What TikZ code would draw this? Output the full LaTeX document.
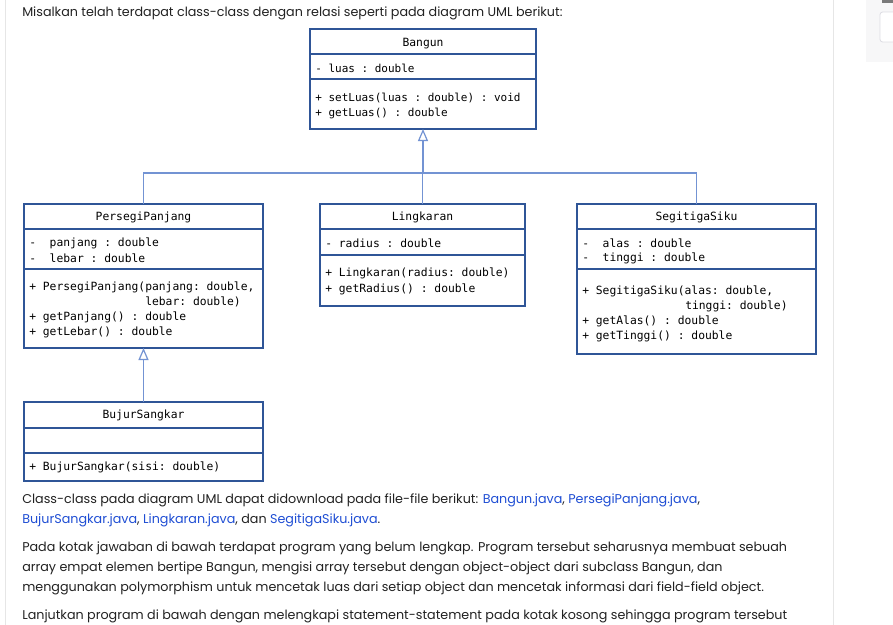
\documentclass[tikz,border=0pt]{standalone}
\usepackage{fontspec}
\setmainfont{Poppins}
\newfontfamily\umlfont{DejaVu Sans Mono}
\usetikzlibrary{arrows.meta}
\definecolor{boxblue}{HTML}{2F5597}
\definecolor{connblue}{HTML}{7393D3}
\definecolor{bodytext}{HTML}{222222}
\definecolor{linkblue}{HTML}{1F4ED4}
\definecolor{cardline}{HTML}{E6E6E6}
\definecolor{panelgray}{HTML}{F7F7F8}
\definecolor{panelline}{HTML}{DDDDE3}
\definecolor{panelbar}{HTML}{7A7A7A}
\newcommand{\lnk}[1]{\textcolor{linkblue}{#1}}
\begin{document}
\begin{tikzpicture}[x=0.75pt,y=-0.75pt,
  classbox/.style={draw=boxblue, line width=1.1pt, fill=white, anchor=north west, inner sep=0pt, outer sep=0pt},
  divider/.style={draw=boxblue, line width=1.1pt},
  conn/.style={draw=connblue, line width=0.9pt},
  inherit/.style={conn, {Triangle[open, width=7.5pt, length=9pt, line width=0.9pt]}-},
  umltitle/.style={font=\umlfont\fontsize{8.5pt}{10pt}\selectfont, text=black, inner sep=0pt, yshift=-1pt},
  member/.style={font=\umlfont\fontsize{8.5pt}{10pt}\selectfont, text=black, inner sep=0pt, anchor=west, yshift=-0.8pt},
  narrow/.style={font=\umlfont\fontsize{8.25pt}{10pt}\selectfont},
  para/.style={font=\fontsize{9.55pt}{12pt}\selectfont, text=bodytext, inner sep=0pt, anchor=west, yshift=-0.6pt},
]
\useasboundingbox (0,0) rectangle (893,625);
\fill[white] (0,0) rectangle (893,625);
% card borders
\draw[cardline, line width=0.75pt] (5,0) -- (5,625);
\draw[cardline, line width=0.75pt] (833,0) -- (833,625);
% right panel
\fill[panelgray] (866,0) rectangle (893,62);
\draw[panelline, fill=white, rounded corners=2pt, line width=0.6pt] (880,12) rectangle (896,42);
\fill[panelbar] (882,0) rectangle (893,3);

% paragraph text
\node[para] (t1) at (22,12.5) {Misalkan telah terdapat class-class dengan relasi seperti pada diagram UML berikut:};
\node[para] (t2) at (22,500) {Class-class pada diagram UML dapat didownload pada file-file berikut: \lnk{Bangun.java}, \lnk{PersegiPanjang.java},};
\node[para] (t3) at (22,520) {\lnk{BujurSangkar.java}, \lnk{Lingkaran.java}, dan \lnk{SegitigaSiku.java}.};
\node[para] (t4) at (22,548) {Pada kotak jawaban di bawah terdapat program yang belum lengkap. Program tersebut seharusnya membuat sebuah};
\node[para] (t5) at (22,568) {array empat elemen bertipe Bangun, mengisi array tersebut dengan object-object dari subclass Bangun, dan};
\node[para] (t6) at (22,588) {menggunakan polymorphism untuk mencetak luas dari setiap object dan mencetak informasi dari field-field object.};
\node[para] (t7) at (22,616) {Lanjutkan program di bawah dengan melengkapi statement-statement pada kotak kosong sehingga program tersebut};

% ---- Bangun
\node[classbox, minimum width=169.5pt, minimum height=75pt] (bangun) at (310,29) {};
\draw[divider] (310,54) -- (536,54);
\draw[divider] (310,79) -- (536,79);
\node[umltitle] (bangunT) at (423,42) {Bangun};
\node[member, narrow] (bangunA1) at (315,67) {-~luas~:~double};
\node[member, narrow] (bangunM1) at (315,97) {+~setLuas(luas~:~double)~:~void};
\node[member, narrow] (bangunM2) at (315,112) {+~getLuas()~:~double};

% ---- PersegiPanjang
\node[classbox, minimum width=179.25pt, minimum height=108pt] (pp) at (24,204) {};
\draw[divider] (24,229) -- (263,229);
\draw[divider] (24,269) -- (263,269);
\node[umltitle] (ppT) at (143.5,216) {PersegiPanjang};
\node[member] (ppA1) at (29,242) {-~~panjang~:~double};
\node[member] (ppA2) at (29,257) {-~~lebar~:~double};
\node[member] (ppM1) at (29,286) {+~PersegiPanjang(panjang:~double,};
\node[member] (ppM1b) at (145,301) {lebar:~double)};
\node[member] (ppM2) at (29,316) {+~getPanjang()~:~double};
\node[member] (ppM3) at (29,331) {+~getLebar()~:~double};

% ---- Lingkaran
\node[classbox, minimum width=153.75pt, minimum height=76.5pt] (lk) at (320,204) {};
\draw[divider] (320,229) -- (525,229);
\draw[divider] (320,255) -- (525,255);
\node[umltitle] (lkT) at (422.5,216) {Lingkaran};
\node[member] (lkA1) at (325,242) {-~radius~:~double};
\node[member] (lkM1) at (325,272) {+~Lingkaran(radius:~double)};
\node[member] (lkM2) at (325,288) {+~getRadius()~:~double};

% ---- SegitigaSiku
\node[classbox, minimum width=179.25pt, minimum height=112.5pt] (seg) at (577,204) {};
\draw[divider] (577,229) -- (816,229);
\draw[divider] (577,269) -- (816,269);
\node[umltitle] (segT) at (696.5,216) {SegitigaSiku};
\node[member] (segA1) at (582,242) {-~~alas~:~double};
\node[member] (segA2) at (582,257) {-~~tinggi~:~double};
\node[member] (segM1) at (582,290) {+~SegitigaSiku(alas:~double,};
\node[member] (segM1b) at (685,305) {tinggi:~double)};
\node[member] (segM2) at (582,320) {+~getAlas()~:~double};
\node[member] (segM3) at (582,335) {+~getTinggi()~:~double};

% ---- BujurSangkar
\node[classbox, minimum width=179.25pt, minimum height=59.25pt] (bs) at (24,402) {};
\draw[divider] (24,428) -- (263,428);
\draw[divider] (24,453) -- (263,453);
\node[umltitle] (bsT) at (143.5,414) {BujurSangkar};
\node[member] (bsM1) at (29,466) {+~BujurSangkar(sisi:~double)};

% ---- connectors
\coordinate (bus) at (423,173);
\draw[inherit] (bangun.south) -- (bus);
\draw[conn] (pp.north) |- (bus) -| (seg.north);
\draw[conn] (lk.north) -- (lk.north |- bus);
\draw[inherit] (pp.south) -- (bs.north);
\end{tikzpicture}
\end{document}
